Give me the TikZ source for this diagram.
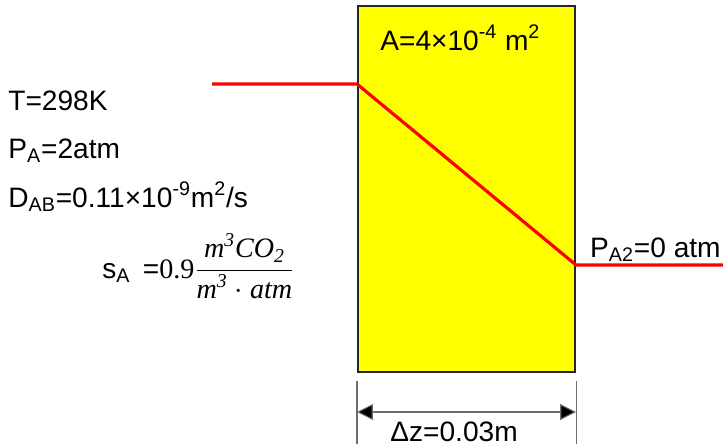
\documentclass[tikz,border=0pt]{standalone}
\usepackage{amsmath}
\usepackage{fontspec}
\setmainfont{Liberation Sans}
\newfontfamily\serifmath{Liberation Serif}
\usepackage{tikz}
\usetikzlibrary{arrows.meta,positioning,calc}
\definecolor{SlabYellow}{RGB}{255,255,0}
\definecolor{ProfileRed}{RGB}{255,0,0}
\definecolor{DimGray}{RGB}{110,110,110}
\newcommand{\fracfont}{\serifmath\itshape\fontsize{16}{18}\selectfont}

\begin{document}
\begin{tikzpicture}[x=0.02cm,y=-0.02cm,
  membrane/.style={draw=black!85,fill=SlabYellow,line width=1.2pt,
                   minimum width=4.34cm,minimum height=7.32cm,inner sep=0pt},
  datum/.style={font=\fontsize{16}{18}\selectfont,inner sep=0pt,anchor=base west},
  profile/.style={draw=ProfileRed,line width=1.8pt,line join=miter},
  dimline/.style={draw=DimGray,line width=0.6pt},
]
\useasboundingbox (0,0) rectangle (723,447);
\node[membrane] (slab) at (466.5,189) {};
\node[datum] (area) at (380,50) {A=4×10\textsuperscript{-4} m\textsuperscript{2}};
\node[datum] (temp) at (8,110) {T=298K};
\node[datum] (press) at (8,158) {P\textsubscript{A}=2atm};
\node[datum] (diff) at (8,207) {D\textsubscript{AB}=0.11×10\textsuperscript{-9}m\textsuperscript{2}/s};
\node[datum] (solub) at (102,278) {s\textsubscript{A} \,={\serifmath\fontsize{16}{18}\selectfont 0.9}$\genfrac{}{}{0.5pt}{0}%
  {\mbox{\fracfont m\textsuperscript{3}CO\textsubscript{2}}}%
  {\mbox{\fracfont m\textsuperscript{3} $\cdot$ atm}}$};
\node[datum,anchor=base east] (outlet) at (721,257) {P\textsubscript{A2}=0 atm};
\coordinate (feed) at (212,84);
\coordinate (sink) at (723,265);
% concentration profile through the slab
\draw[profile] (feed) -- (slab.west |- feed) -- (slab.east |- sink) -- (sink);
% thickness
\coordinate (dimL) at (slab.south west |- 0,412);
\coordinate (dimR) at (slab.south east |- 0,412);
\draw[dimline] ($(slab.south west)+(0,8)$) -- ++(0,63);
\draw[dimline] ($(slab.south east)+(0,8)$) -- ++(0,63);
\draw[dimline,{Triangle[length=9pt,width=9pt,fill=black]}-{Triangle[length=9pt,width=9pt,fill=black]}] (dimL) -- (dimR);
\node[datum] (thick) at (390,441) {Δz=0.03m};
\end{tikzpicture}
\end{document}
